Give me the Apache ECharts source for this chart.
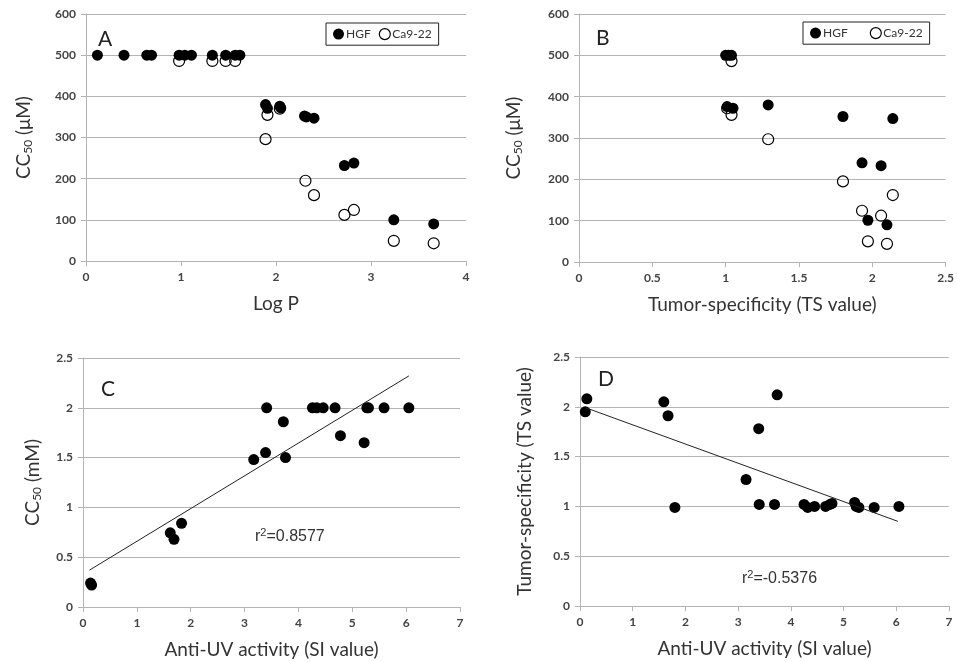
<!DOCTYPE html>
<html>
<head>
<meta charset="utf-8">
<script src="https://cdn.jsdelivr.net/npm/echarts@6/dist/echarts.min.js"></script>
<style>
  html, body { margin: 0; padding: 0; background: #fff; }
  #chart { width: 957px; height: 662px; }
</style>
</head>
<body>
<div id="chart"></div>
<script>
// A: Log P vs CC50 (uM)
var aHgfX = [0.12, 0.40, 0.64, 0.69, 0.98, 1.04, 1.11, 1.33, 1.47, 1.57, 1.62, 1.89, 1.91, 2.04, 2.05, 2.30, 2.32, 2.40, 2.72, 2.82, 3.24, 3.66];
var aHgfY = [500, 500, 500, 500, 500, 500, 500, 500, 500, 500, 500, 380, 371, 376, 372, 352, 350, 347, 232, 238, 100, 90];
var aCaX = [0.98, 1.33, 1.47, 1.57, 1.89, 1.91, 2.04, 2.31, 2.40, 2.72, 2.82, 3.24, 3.66];
var aCaY = [486, 486, 486, 486, 296, 355, 370, 195, 160, 112, 124, 49, 43];

// B: TS value vs CC50 (uM)
var bHgfX = [1.00, 1.02, 1.04, 1.01, 1.05, 1.29, 1.80, 2.14, 1.93, 2.06, 1.97, 2.10];
var bHgfY = [500, 500, 500, 376, 372, 380, 352, 347, 240, 233, 101, 90];
var bCaX = [1.04, 1.04, 1.01, 1.29, 1.80, 2.14, 1.93, 2.06, 1.97, 2.10];
var bCaY = [486, 356, 372, 297, 195, 162, 124, 112, 50, 44];

// C: SI value vs CC50 (mM)
var cX = [0.14, 0.16, 1.62, 1.69, 1.83, 3.17, 3.39, 3.41, 3.72, 3.76, 4.26, 4.34, 4.46, 4.68, 4.78, 5.22, 5.27, 5.30, 5.59, 6.05];
var cY = [0.24, 0.22, 0.745, 0.68, 0.84, 1.48, 1.55, 2.0, 1.86, 1.50, 2.0, 2.0, 2.0, 2.0, 1.72, 1.65, 2.0, 2.0, 2.0, 2.0];
var cTrendX = [0.12, 6.05];
var cTrendY = [0.37, 2.32];

// D: SI value vs TS value
var dX = [0.13, 0.10, 1.59, 1.67, 1.80, 3.15, 3.39, 3.40, 3.74, 3.69, 4.25, 4.32, 4.45, 4.66, 4.74, 4.78, 5.21, 5.24, 5.29, 5.58, 6.05];
var dY = [2.08, 1.95, 2.05, 1.91, 0.99, 1.27, 1.78, 1.02, 2.12, 1.02, 1.02, 0.99, 1.0, 1.0, 1.02, 1.03, 1.04, 1.0, 0.99, 0.99, 1.0];
var dTrendX = [0.11, 6.03];
var dTrendY = [1.99, 0.85];

var legendNames = ['HGF', 'Ca9-22'];
var panelLabels = ['A', 'B', 'C', 'D'];
var rSquared = ['0.8577', '-0.5376'];

function pairs(xs, ys) {
    return xs.map(function (x, i) { return [x, ys[i]]; });
}

var FONT = 'Lato, "Open Sans", sans-serif';
var gridColor = '#b4b4b4';

function xAxis(idx, max, interval, name, gap) {
    return {
        gridIndex: idx, type: 'value', min: 0, max: max, interval: interval,
        name: name, nameLocation: 'middle', nameGap: gap,
        nameTextStyle: { fontFamily: FONT, fontSize: 19, color: '#333' },
        axisLine: { show: true, lineStyle: { color: gridColor } },
        axisTick: { show: true, length: 5, lineStyle: { color: gridColor } },
        axisLabel: { fontFamily: FONT, fontSize: 12, color: '#444', fontWeight: 'bold', margin: 10 },
        splitLine: { show: false }
    };
}

function yAxis(idx, max, interval, name, gap) {
    return {
        gridIndex: idx, type: 'value', min: 0, max: max, interval: interval,
        name: name, nameLocation: 'middle', nameGap: gap, nameRotate: 90,
        nameTextStyle: {
            fontFamily: FONT, fontSize: 19, color: '#333',
            rich: {
                t: { fontFamily: FONT, fontSize: 19, color: '#333' },
                s: { fontFamily: FONT, fontSize: 12, color: '#333', padding: [8, 0, 0, 0] }
            }
        },
        axisLine: { show: true, lineStyle: { color: gridColor } },
        axisTick: { show: true, length: 5, lineStyle: { color: gridColor } },
        axisLabel: { fontFamily: FONT, fontSize: 12, color: '#444', fontWeight: 'bold', margin: 10 },
        splitLine: { show: true, lineStyle: { color: gridColor, width: 1 } }
    };
}

function dots(idx, data, open) {
    return {
        type: 'scatter', xAxisIndex: idx, yAxisIndex: idx,
        name: open ? legendNames[1] : legendNames[0],
        data: data, symbol: 'circle', symbolSize: 11,
        z: open ? 3 : 2,
        itemStyle: open ? { color: 'rgba(255,255,255,0)', borderColor: '#000', borderWidth: 1.2, opacity: 1 }
                        : { color: '#000', opacity: 1 }
    };
}

function trend(idx, xs, ys) {
    return {
        type: 'line', xAxisIndex: idx, yAxisIndex: idx,
        data: pairs(xs, ys), symbol: 'none', silent: true,
        lineStyle: { color: '#222', width: 1 }
    };
}

function legend(left, top, gap) {
    return {
        left: left, top: top, orient: 'horizontal',
        borderColor: '#222', borderWidth: 1, padding: [5, 7],
        itemWidth: 11, itemHeight: 11, itemGap: gap,
        textStyle: { fontFamily: FONT, fontSize: 12, color: '#333', padding: [0, 0, 0, -3] },
        data: [
            { name: legendNames[0], icon: 'circle', itemStyle: { color: '#000', opacity: 1 } },
            { name: legendNames[1], icon: 'circle', itemStyle: { color: '#fff', borderColor: '#000', borderWidth: 1.2, opacity: 1 } }
        ],
        selectedMode: false
    };
}

function label(text, left, top) {
    return { text: text, left: left, top: top, padding: 0,
             textStyle: { fontFamily: FONT, fontSize: 21, fontWeight: 'normal', color: '#222' } };
}

function rLabel(val, left, top) {
    var f = '"Liberation Sans", Arial, sans-serif';
    return {
        text: '{a|r}{b|2}{a|=' + val + '}', left: left, top: top, padding: 0,
        textStyle: {
            fontWeight: 'normal',
            rich: {
                a: { fontFamily: f, fontSize: 16, fontWeight: 'normal', color: '#333' },
                b: { fontFamily: f, fontSize: 11, fontWeight: 'normal', color: '#333', padding: [0, 0, 8, 0] }
            }
        }
    };
}

var myChart = echarts.init(document.getElementById('chart'));

var option = {
    backgroundColor: '#fff',
    animation: false,
    title: [
        label(panelLabels[0], 98, 29),
        label(panelLabels[1], 596, 28),
        label(panelLabels[2], 101, 379),
        label(panelLabels[3], 598, 369),
        rLabel(rSquared[0], 255, 527),
        rLabel(rSquared[1], 742, 569)
    ],
    legend: [legend(326, 23, 8), legend(803, 22, 22)],
    grid: [
        { left: 86, top: 14, width: 380, height: 247 },
        { left: 579, top: 14, width: 368, height: 248 },
        { left: 83, top: 358, width: 377, height: 249 },
        { left: 580, top: 357, width: 369, height: 249 }
    ],
    xAxis: [
        xAxis(0, 4, 1, 'Log P', 33),
        xAxis(1, 2.5, 0.5, 'Tumor-specificity (TS value)', 33),
        xAxis(2, 7, 1, 'Anti-UV activity (SI value)', 33),
        xAxis(3, 7, 1, 'Anti-UV activity (SI value)', 33)
    ],
    yAxis: [
        yAxis(0, 600, 100, '{t|CC}{s|50}{t| (μM)}', 52),
        yAxis(1, 600, 100, '{t|CC}{s|50}{t| (μM)}', 55),
        yAxis(2, 2.5, 0.5, '{t|CC}{s|50}{t| (mM)}', 40),
        yAxis(3, 2.5, 0.5, 'Tumor-specificity (TS value)', 46)
    ],
    series: [
        dots(0, pairs(aHgfX, aHgfY), false),
        dots(0, pairs(aCaX, aCaY), true),
        dots(1, pairs(bHgfX, bHgfY), false),
        dots(1, pairs(bCaX, bCaY), true),
        dots(2, pairs(cX, cY), false),
        trend(2, cTrendX, cTrendY),
        dots(3, pairs(dX, dY), false),
        trend(3, dTrendX, dTrendY)
    ]
};

myChart.setOption(option);
</script>
</body>
</html>
